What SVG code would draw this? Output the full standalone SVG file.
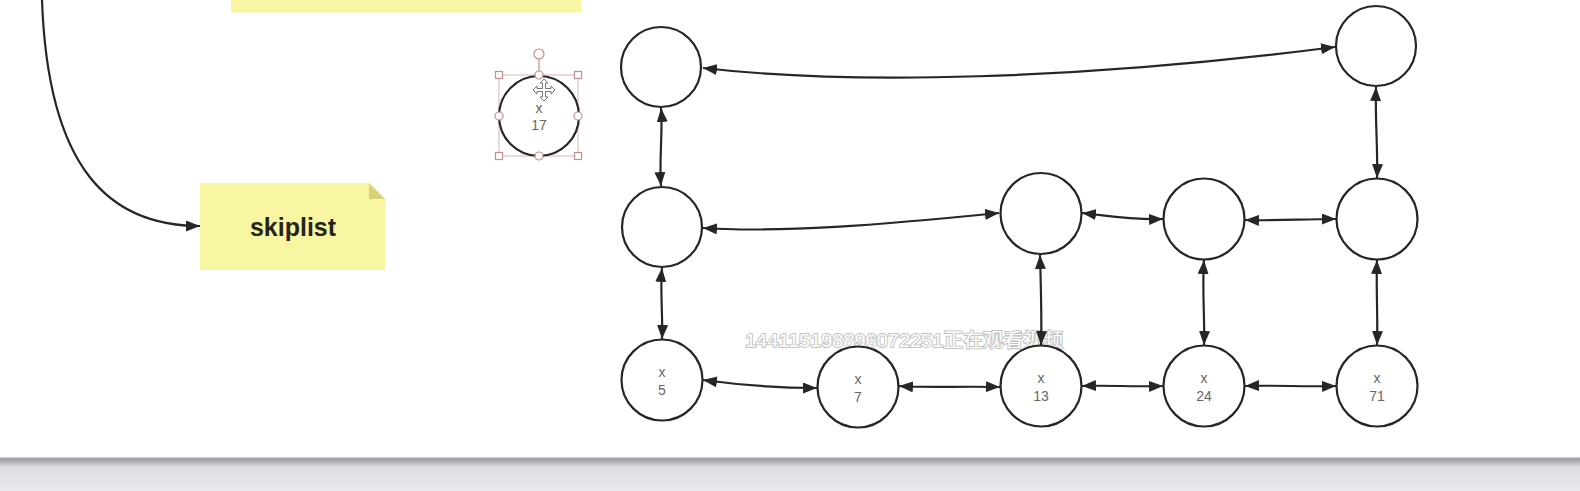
<svg xmlns="http://www.w3.org/2000/svg" width="1580" height="491" viewBox="0 0 1580 491">
<defs>
<style>
.node{fill:#fff;stroke:#262626;stroke-width:2.2}
.lbl{font-family:"Liberation Sans","DejaVu Sans",sans-serif;font-size:14px;fill:#666;text-anchor:middle}
.conn{fill:none;stroke:#262626;stroke-width:2.2}
.h{fill:#fff;stroke:#c48e8e;stroke-width:1.2}
</style>
<marker id="ah" viewBox="0 0 14 11" refX="14" refY="5.5" markerWidth="14" markerHeight="11" markerUnits="userSpaceOnUse" orient="auto-start-reverse">
<path d="M0,0 L14,5.5 L0,11 z" fill="#262626"/>
</marker>
<linearGradient id="band" x1="0" y1="0" x2="0" y2="1">
<stop offset="0" stop-color="#d6d6da"/>
<stop offset="0.06" stop-color="#9c9ca1"/>
<stop offset="0.3" stop-color="#dedde3"/>
<stop offset="1" stop-color="#eae9ef"/>
</linearGradient>
</defs>
<rect width="1580" height="491" fill="#fff"/>
<rect x="0" y="457" width="1580" height="34" fill="url(#band)"/>

<g id="top-note"><rect x="231" y="0" width="350" height="12.5" fill="#f9f6a3"/></g>

<text x="745" y="347" font-family="'Liberation Sans','Noto Sans CJK SC',sans-serif" font-size="19" fill="#fff" stroke="#c4c4c4" stroke-width="2" paint-order="stroke" textLength="318" lengthAdjust="spacingAndGlyphs">144115198896072251正在观看视频</text>

<g id="connectors">
<path class="conn" marker-end="url(#ah)" d="M42,0 C48,170 110,226 200,226"/>
<path class="conn" marker-start="url(#ah)" marker-end="url(#ah)" d="M703,68 C850,85 1080,80 1335,47"/>
<path class="conn" marker-start="url(#ah)" marker-end="url(#ah)" d="M661,108 C663,130 659,160 661,186"/>
<path class="conn" marker-start="url(#ah)" marker-end="url(#ah)" d="M662,268 C660,290 663,315 662,339"/>
<path class="conn" marker-start="url(#ah)" marker-end="url(#ah)" d="M703,228 C780,233 880,225 999,213"/>
<path class="conn" marker-start="url(#ah)" marker-end="url(#ah)" d="M1082,213 C1110,216 1130,220 1163,219"/>
<path class="conn" marker-start="url(#ah)" marker-end="url(#ah)" d="M1245,220 C1280,221 1300,219 1336,219"/>
<path class="conn" marker-start="url(#ah)" marker-end="url(#ah)" d="M1376,87 C1375,120 1378,150 1377,178"/>
<path class="conn" marker-start="url(#ah)" marker-end="url(#ah)" d="M1040,255 C1041,290 1042,320 1041,345"/>
<path class="conn" marker-start="url(#ah)" marker-end="url(#ah)" d="M1204,260 C1202,290 1205,320 1204,345"/>
<path class="conn" marker-start="url(#ah)" marker-end="url(#ah)" d="M1377,260 C1376,290 1378,320 1377,345"/>
<path class="conn" marker-start="url(#ah)" marker-end="url(#ah)" d="M703,380 C740,385 780,388 817,388"/>
<path class="conn" marker-start="url(#ah)" marker-end="url(#ah)" d="M899,386 C930,388 960,386 1000,387"/>
<path class="conn" marker-start="url(#ah)" marker-end="url(#ah)" d="M1082,386 C1110,385 1130,387 1163,386"/>
<path class="conn" marker-start="url(#ah)" marker-end="url(#ah)" d="M1245,386 C1280,385 1300,387 1336,386"/>
</g>

<g id="skiplist-note">
<path d="M200,183 L369,183 L385,199 L385,270 L200,270 z" fill="#f9f6a3"/>
<path d="M369,183 L385,199 L369,199 z" fill="#d9d27c"/>
<text x="293" y="236" text-anchor="middle" font-family="'Liberation Sans','DejaVu Sans',sans-serif" font-weight="bold" font-size="25" fill="#25241a">skiplist</text>
</g>

<g id="n-top-left"><circle class="node" cx="661" cy="67" r="40"/></g>
<g id="n-top-right"><circle class="node" cx="1376" cy="46" r="40"/></g>
<g id="n-mid-left"><circle class="node" cx="662" cy="227" r="40"/></g>
<g id="n-mid-13"><circle class="node" cx="1041" cy="213.5" r="40.5"/></g>
<g id="n-mid-24"><circle class="node" cx="1204" cy="219" r="40.5"/></g>
<g id="n-mid-71"><circle class="node" cx="1377" cy="219" r="40.5"/></g>
<g id="n-5"><circle class="node" cx="662" cy="380" r="40.5"/><text class="lbl" x="662" y="377">x</text><text class="lbl" x="662" y="395">5</text></g>
<g id="n-7"><circle class="node" cx="858" cy="387" r="40.5"/><text class="lbl" x="858" y="384">x</text><text class="lbl" x="858" y="402">7</text></g>
<g id="n-13"><circle class="node" cx="1041" cy="386" r="40.5"/><text class="lbl" x="1041" y="383">x</text><text class="lbl" x="1041" y="401">13</text></g>
<g id="n-24"><circle class="node" cx="1204" cy="386" r="40.5"/><text class="lbl" x="1204" y="383">x</text><text class="lbl" x="1204" y="401">24</text></g>
<g id="n-71"><circle class="node" cx="1377" cy="386" r="40.5"/><text class="lbl" x="1377" y="383">x</text><text class="lbl" x="1377" y="401">71</text></g>

<g id="n-17">
<rect x="499" y="75" width="79" height="81" fill="none" stroke="#dcb4b4" stroke-width="1"/>
<line x1="539" y1="54" x2="539" y2="75" stroke="#c48e8e" stroke-width="1.2"/>
<circle class="node" cx="539" cy="116" r="40"/>
<text class="lbl" x="539" y="113">x</text><text class="lbl" x="539" y="130">17</text>
<circle class="h" cx="539" cy="54" r="5"/>
<circle class="h" cx="539" cy="75" r="4"/>
<circle class="h" cx="539" cy="156" r="4"/>
<circle class="h" cx="499" cy="116" r="4"/>
<circle class="h" cx="578" cy="116" r="4"/>
<rect class="h" x="495.5" y="71.5" width="7" height="7"/>
<rect class="h" x="574.5" y="71.5" width="7" height="7"/>
<rect class="h" x="495.5" y="152.5" width="7" height="7"/>
<rect class="h" x="574.5" y="152.5" width="7" height="7"/>
<polygon transform="translate(544,90)" points="0,-11 4,-7 1.5,-7 1.5,-1.5 7,-1.5 7,-4 11,0 7,4 7,1.5 1.5,1.5 1.5,7 4,7 0,11 -4,7 -1.5,7 -1.5,1.5 -7,1.5 -7,4 -11,0 -7,-4 -7,-1.5 -1.5,-1.5 -1.5,-7 -4,-7" fill="#fff" stroke="#777" stroke-width="1"/>
</g>
</svg>
